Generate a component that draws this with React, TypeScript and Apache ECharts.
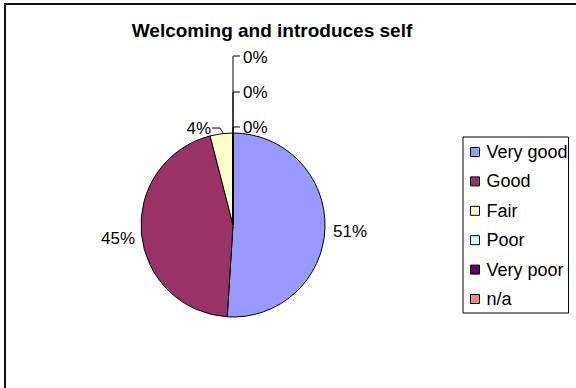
import React, { useEffect, useRef } from "react";
import * as echarts from "echarts";

const title = "Welcoming and introduces self";
const categories = ["Very good", "Good", "Fair", "Poor", "Very poor", "n/a"];
const values = [51, 45, 4, 0, 0, 0];
const colors = ["#9999FF", "#993366", "#FFFFCC", "#CCFFFF", "#660066", "#FF8080"];

const FONT = "'Liberation Sans', Arial, sans-serif";

// label anchor positions (layout only)
const labelSpots: { x: number; y: number; align: string; line?: number[][] }[] = [
  { x: 333, y: 231, align: "left" },
  { x: 135, y: 238, align: "right" },
  { x: 211, y: 128, align: "right", line: [[223, 133], [220, 128], [212, 128]] },
  { x: 243, y: 127, align: "left", line: [[233, 133], [233, 127], [240, 127]] },
  { x: 243, y: 92, align: "left", line: [[233, 133], [233, 92], [240, 92]] },
  { x: 243, y: 57, align: "left", line: [[233, 133], [233, 56], [240, 56]] },
];

export default function App() {
  const ref = useRef<HTMLDivElement>(null);
  useEffect(() => {
    if (!ref.current) return;
    const chart = echarts.init(ref.current, undefined, { renderer: "svg" });
    chart.setOption({
      animation: false,
      backgroundColor: "#ffffff",
      color: colors,
      title: {
        text: title,
        left: 272,
        top: 21,
        padding: 0,
        textAlign: "center",
        textStyle: { fontFamily: FONT, fontSize: 19, fontWeight: "bold", color: "#000", lineHeight: 19 },
      },
      graphic: [
        {
          type: "rect",
          shape: { x: 5, y: 4, width: 640, height: 460 },
          style: { fill: "none", stroke: "#111", lineWidth: 2 },
          silent: true,
          z: -10,
        },
      ],
      legend: {
        orient: "vertical",
        left: 463,
        top: 137,
        data: categories,
        icon: "rect",
        itemWidth: 9,
        itemHeight: 9,
        itemGap: 11.4,
        padding: [6, 1, 5, 7],
        borderColor: "#000",
        borderWidth: 1,
        itemStyle: { borderColor: "#000", borderWidth: 1 },
        textStyle: { fontFamily: FONT, fontSize: 18, color: "#000", lineHeight: 18, padding: [0, 0, 0, 2] },
      },
      series: [
        {
          type: "pie",
          center: [233, 225],
          radius: 92,
          startAngle: 90,
          clockwise: true,
          percentPrecision: 0,
          avoidLabelOverlap: false,
          minShowLabelAngle: 0,
          itemStyle: { borderColor: "#000", borderWidth: 1 },
          emphasis: { disabled: true },
          label: {
            show: true,
            position: "outside",
            formatter: "{d}%",
            fontFamily: FONT,
            fontSize: 17,
            color: "#000",
          },
          labelLine: { show: true, lineStyle: { color: "#000", width: 1 } },
          labelLayout: (params: any) => {
            const s = labelSpots[params.dataIndex];
            const out: any = { x: s.x, y: s.y, align: s.align, verticalAlign: "middle" };
            if (s.line) out.labelLinePoints = s.line;
            return out;
          },
          data: categories.map((name, i) => ({
            name,
            value: values[i],
            labelLine: { show: !!labelSpots[i].line },
          })),
        },
      ],
    });
    return () => chart.dispose();
  }, []);
  return (
    <div
      ref={ref}
      style={{ position: "fixed", left: 0, top: 0, width: 576, height: 388 }}
    />
  );
}
